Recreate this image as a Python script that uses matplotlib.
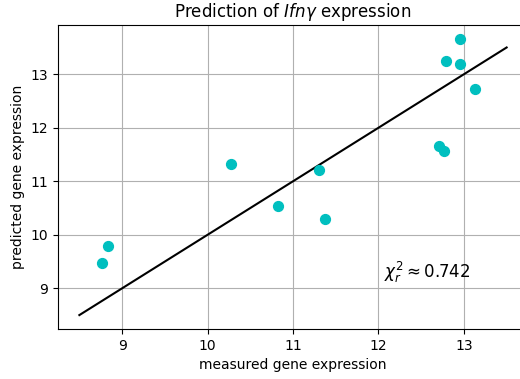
import numpy as np
import matplotlib
matplotlib.use("Agg")
import matplotlib.pyplot as plt

# measured vs predicted expression values
measured = [12.95, 12.79, 12.95, 13.13, 12.71, 12.77, 10.27, 11.30, 10.82, 11.37, 8.84, 8.77]
predicted = [13.65, 13.25, 13.20, 12.72, 11.65, 11.56, 11.33, 11.22, 10.53, 10.30, 9.79, 9.47]
ident = [8.5, 13.5]
chi2_r = 0.742

fig = plt.figure(figsize=(5.2, 3.79), dpi=100)
ax = fig.add_axes([58 / 520, 50 / 379, 470 / 520, 304 / 379])
ax.plot(ident, ident, color="k", lw=1.5, zorder=2)
ax.scatter(measured, predicted, color="c", s=50, zorder=3)
ax.grid(True, color="#b0b0b0", lw=0.8)
ax.set_axisbelow(True)
ax.set_xlim(8.25, 13.75)
ax.set_ylim(8.24, 13.92)
ax.set_xticks([9, 10, 11, 12, 13])
ax.set_yticks([9, 10, 11, 12, 13])
ax.tick_params(labelsize=10)
ax.set_xlabel("measured gene expression", fontsize=10)
ax.set_ylabel("predicted gene expression", fontsize=10)
ax.set_title(r"Prediction of $Ifn\gamma$ expression", fontsize=12)
ax.text(12.07, 9.29, r"$\chi^2_r \approx$" + f"{chi2_r:.3f}", fontsize=12, va="center")
fig.savefig("out.png", dpi=100)
